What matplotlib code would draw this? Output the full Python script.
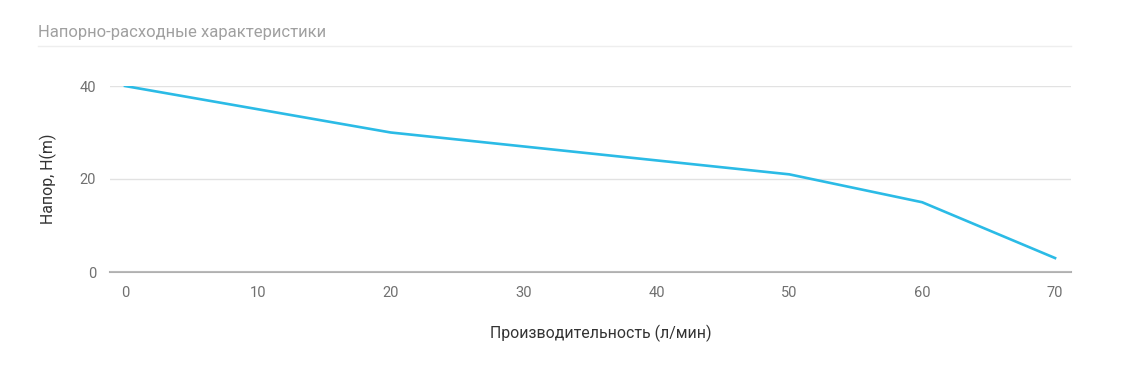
import matplotlib.pyplot as plt
from matplotlib.lines import Line2D

plt.rcParams['font.family'] = ['Roboto', 'DejaVu Sans']

# data
flow = [0, 10, 20, 30, 40, 50, 60, 70]
head = [40, 35, 30, 27, 24, 21, 15, 3]
x_ticks = [0, 10, 20, 30, 40, 50, 60, 70]
y_ticks = [0, 20, 40]

W, H = 1132, 378
fig = plt.figure(figsize=(W / 100, H / 100), dpi=100)
ax = fig.add_axes([110 / W, 1 - 272 / H, (1071 - 110) / W, (272 - 86) / H])

ax.plot(flow, head, color='#2bbbe6', linewidth=1.9, solid_joinstyle='round')

ax.set_xlim(-1.13, 71.2)
ax.set_ylim(0, 40)
ax.set_xticks(x_ticks)
ax.set_yticks(y_ticks)
ax.grid(axis='y', color='#e2e2e2', linewidth=1)
ax.set_axisbelow(True)
for s in ['top', 'right', 'left']:
    ax.spines[s].set_visible(False)
ax.spines['bottom'].set_color('#b0b0b0')
ax.spines['bottom'].set_linewidth(1.5)
ax.spines['bottom'].set_zorder(0.5)
ax.tick_params(length=0, labelsize=10.5, labelcolor='#707070')
ax.tick_params(axis='x', pad=10)
ax.tick_params(axis='y', pad=10)

fig.text(601 / W, 1 - 333 / H, 'Производительность (л/мин)', ha='center', va='center',
         fontsize=11.4, color='#333333')
fig.text(48 / W, 1 - 179 / H, 'Напор, H(m)', ha='center', va='center', rotation=90,
         fontsize=11.4, color='#333333')

# title and separator
fig.text(38 / W, 1 - 32 / H, 'Напорно-расходные характеристики', ha='left', va='center',
         fontsize=12, color='#a0a0a0')
fig.add_artist(Line2D([38 / W, 1071 / W], [1 - 46 / H, 1 - 46 / H], color='#eeeeee',
                      linewidth=1, transform=fig.transFigure))

fig.savefig('out.png', dpi=100)
